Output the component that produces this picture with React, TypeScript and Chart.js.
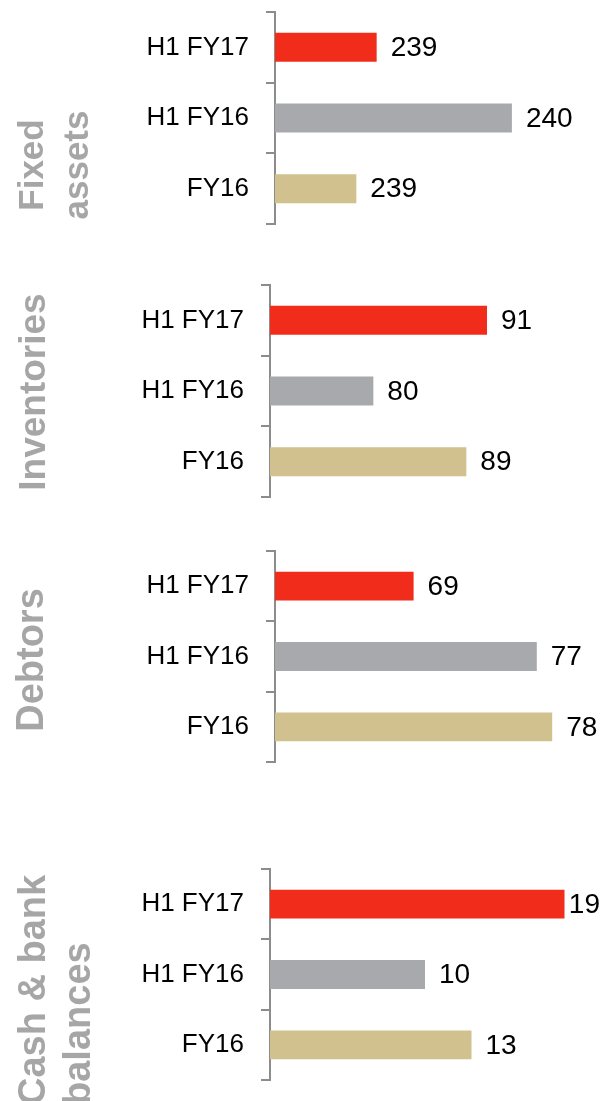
import React, { useEffect, useRef } from "react";
import { Chart, registerables } from "chart.js";

Chart.register(...registerables);

// ---- data ----
const categories = ["H1 FY17", "H1 FY16", "FY16"];
const fixedAssets = [239.0, 240.33, 238.8];
const inventories = [91, 80, 89];
const debtors = [69, 77, 78];
const cashBank = [19, 10, 13];
const fixedTitle = ["Fixed", "assets"];
const inventoriesTitle = ["Inventories"];
const debtorsTitle = ["Debtors"];
const cashTitle = ["Cash & bank", "balances"];
const barColors = ["#F22C1A", "#A8A9AD", "#D0C18E"];

// ---- layout / style (not data) ----
const FONT = "'Liberation Sans', Arial, Helvetica, sans-serif";
const AXIS_COLOR = "#8c8c8c";
const TITLE_COLOR = "#a6a6a6";

type Panel = {
  values: number[];
  title: string[];
  min: number;
  max: number;
  top: number;
  height: number;
  axisTop: number;
  axisLen: number;
  axisX: number;
  right: number;
  titleSize: number;
  titleX: number;
  titleAlign: "center" | "left";
  titleY: number;
};

const panels: Panel[] = [
  { values: fixedAssets, title: fixedTitle, min: 238, max: 241, top: 0, height: 248, axisTop: 12, axisLen: 212, axisX: 275, right: 580, titleSize: 35, titleX: 43, titleAlign: "center", titleY: 165 },
  { values: inventories, title: inventoriesTitle, min: 70, max: 100, top: 273, height: 248, axisTop: 12, axisLen: 212, axisX: 270, right: 580, titleSize: 37, titleX: 45, titleAlign: "center", titleY: 119 },
  { values: debtors, title: debtorsTitle, min: 60, max: 80, top: 539, height: 248, axisTop: 12, axisLen: 211, axisX: 275, right: 583, titleSize: 38, titleX: 43, titleAlign: "center", titleY: 121 },
  { values: cashBank, title: cashTitle, min: 0, max: 20, top: 857, height: 244, axisTop: 12, axisLen: 211, axisX: 270, right: 580, titleSize: 38, titleX: 45, titleAlign: "left", titleY: 248 },
];

function PanelChart({ p }: { p: Panel }) {
  const ref = useRef<HTMLCanvasElement | null>(null);
  useEffect(() => {
    if (!ref.current) return;
    const valueLabels = {
      id: "valueLabels",
      afterDatasetsDraw(chart: any) {
        const ctx = chart.ctx;
        const meta = chart.getDatasetMeta(0);
        ctx.save();
        ctx.font = `28px ${FONT}`;
        ctx.fillStyle = "#000";
        ctx.textAlign = "left";
        ctx.textBaseline = "middle";
        meta.data.forEach((bar: any, i: number) => {
          const txt = String(Math.round(p.values[i]));
          const w = ctx.measureText(txt).width;
          const x = Math.min(bar.x + 14, chart.width - 4 - w);
          ctx.fillText(txt, x, bar.y + 1);
        });
        ctx.restore();
      },
    };
    const sideTitle = {
      id: "sideTitle",
      afterDraw(chart: any) {
        const ctx = chart.ctx;
        ctx.save();
        ctx.font = `bold ${p.titleSize}px ${FONT}`;
        ctx.fillStyle = TITLE_COLOR;
        ctx.textBaseline = "alphabetic";
        ctx.textAlign = p.titleAlign;
        p.title.forEach((line, i) => {
          ctx.save();
          ctx.translate(p.titleX + i * 45, p.titleY);
          ctx.rotate(-Math.PI / 2);
          ctx.fillText(line, 0, 0);
          ctx.restore();
        });
        ctx.restore();
      },
    };
    const chart = new Chart(ref.current, {
      type: "bar",
      data: {
        labels: categories,
        datasets: [
          {
            data: p.values,
            backgroundColor: barColors,
            borderWidth: 0,
            barPercentage: 0.41,
            categoryPercentage: 1,
          },
        ],
      },
      options: {
        indexAxis: "y",
        responsive: false,
        animation: false,
        events: [],
        devicePixelRatio: 1,
        layout: {
          padding: {
            left: 0,
            top: p.axisTop,
            bottom: p.height - p.axisTop - p.axisLen,
            right: 604 - p.right,
          },
        },
        plugins: { legend: { display: false }, tooltip: { enabled: false } },
        scales: {
          x: { display: false, min: p.min, max: p.max },
          y: {
            type: "category",
            offset: true,
            afterFit: (scale: any) => {
              scale.width = p.axisX;
              scale.paddingTop = 0;
              scale.paddingBottom = 0;
            },
            grid: {
              offset: true,
              drawOnChartArea: false,
              drawTicks: true,
              tickLength: 9,
              color: AXIS_COLOR,
              lineWidth: 2,
            },
            border: { display: true, color: AXIS_COLOR, width: 2 },
            ticks: {
              padding: 17,
              color: "#000",
              font: { family: FONT, size: 26 },
            },
          },
        },
      },
      plugins: [valueLabels, sideTitle],
    } as any);
    return () => chart.destroy();
  }, [p]);
  return (
    <canvas
      ref={ref}
      width={604}
      height={p.height}
      style={{ position: "absolute", left: 0, top: p.top, width: 604, height: p.height }}
    />
  );
}

export default function App() {
  return (
    <div style={{ position: "absolute", left: 0, top: 0, width: 604, height: 1101, overflow: "hidden", background: "#fff" }}>
      {panels.map((p, i) => (
        <PanelChart key={i} p={p} />
      ))}
    </div>
  );
}
